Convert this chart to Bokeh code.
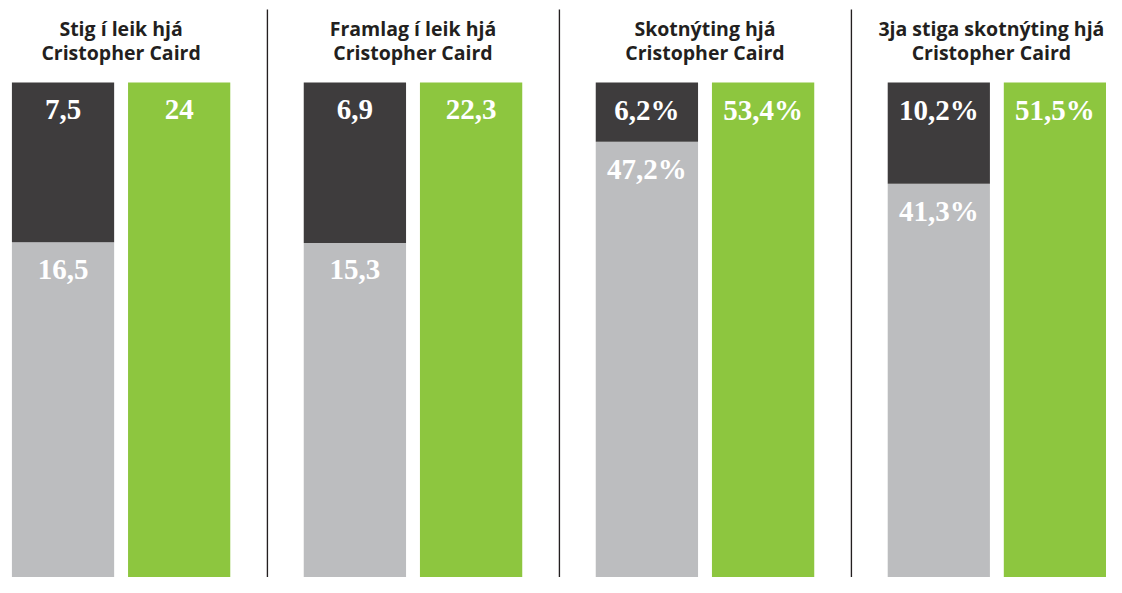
from bokeh.plotting import figure
from bokeh.layouts import row
from bokeh.models import Range1d
from bokeh.core.properties import value
from bokeh.embed import file_html
from bokeh.resources import INLINE

# ---- data ----
title_line1 = ["Stig í leik hjá", "Framlag í leik hjá", "Skotnýting hjá", "3ja stiga skotnýting hjá"]
title_line2 = ["Cristopher Caird", "Cristopher Caird", "Cristopher Caird", "Cristopher Caird"]
caird_vals = [7.5, 6.9, 6.2, 10.2]
rest_vals = [16.5, 15.3, 47.2, 41.3]
team_vals = [24, 22.3, 53.4, 51.5]
suffixes = ["", "", "%", "%"]

DARK = "#3e3c3d"
GRAY = "#bcbdbf"
GREEN = "#8dc63f"

def fmt(v, s):
    return f"{v:g}".replace(".", ",") + s

ref_widths = [268, 294, 294, 258]
pix_widths = [266, 292, 292, 256]
xstarts = [26, 0, 0, 0]
title_x = [147.5, 147.5, 147.5, 142.0]
H = 577
BAR_PX = 511.0
TOP_PX = 82.0
BOTTOM_PX = 593.0
SEP_TOP_PX = 9.0
X_DARK, X_GREEN, BW = 89.0, 206.0, 103

figs = []
for i in range(4):
    total = team_vals[i]
    k = BAR_PX / total
    p = figure(width=pix_widths[i], height=H, output_backend="svg", toolbar_location=None,
               x_range=Range1d(xstarts[i], xstarts[i] + ref_widths[i]),
               y_range=Range1d((BOTTOM_PX - H) / k, total + TOP_PX / k),
               min_border=0, outline_line_color=None, background_fill_color="white",
               border_fill_color="white")
    p.xaxis.visible = False
    p.yaxis.visible = False
    p.grid.visible = False

    # team total bar split: gray (rest of team) at bottom, dark (Caird) on top; green = team total
    p.vbar(x=[X_DARK], bottom=[0], top=[rest_vals[i]], width=BW, fill_color=GRAY, line_color=None)
    p.vbar(x=[X_DARK], bottom=[rest_vals[i]], top=[team_vals[i]], width=BW,
           fill_color=DARK, line_color=None)
    p.vbar(x=[X_GREEN], bottom=[0], top=[team_vals[i]], width=BW, fill_color=GREEN, line_color=None)

    common = dict(text_font=value("Liberation Serif"), text_font_style="bold", text_font_size="29px",
                  text_color="white", text_align="center", text_baseline="alphabetic", y_offset=27)
    p.text(x=[X_DARK, X_DARK, X_GREEN],
           y=[team_vals[i], rest_vals[i], team_vals[i]],
           text=[fmt(caird_vals[i], suffixes[i]), fmt(rest_vals[i], suffixes[i]), fmt(team_vals[i], suffixes[i])],
           **common)

    tcommon = dict(text_font=value("Open Sans"), text_font_style="bold", text_font_size="19.5px",
                   text_color="#231f20", text_align="center", text_baseline="alphabetic")
    p.text(x=[title_x[i]], y=[total], text=[title_line1[i]], y_offset=-54, **tcommon)
    p.text(x=[title_x[i]], y=[total], text=[title_line2[i]], y_offset=-30, **tcommon)

    if i > 0:
        p.segment(x0=[0.8], x1=[0.8], y0=[-total], y1=[total + (TOP_PX - SEP_TOP_PX) / k],
                  line_color="#231f20", line_width=1.6)
    figs.append(p)

layout = row(*figs, spacing=0)
open("out.html", "w").write(file_html(layout, INLINE))
